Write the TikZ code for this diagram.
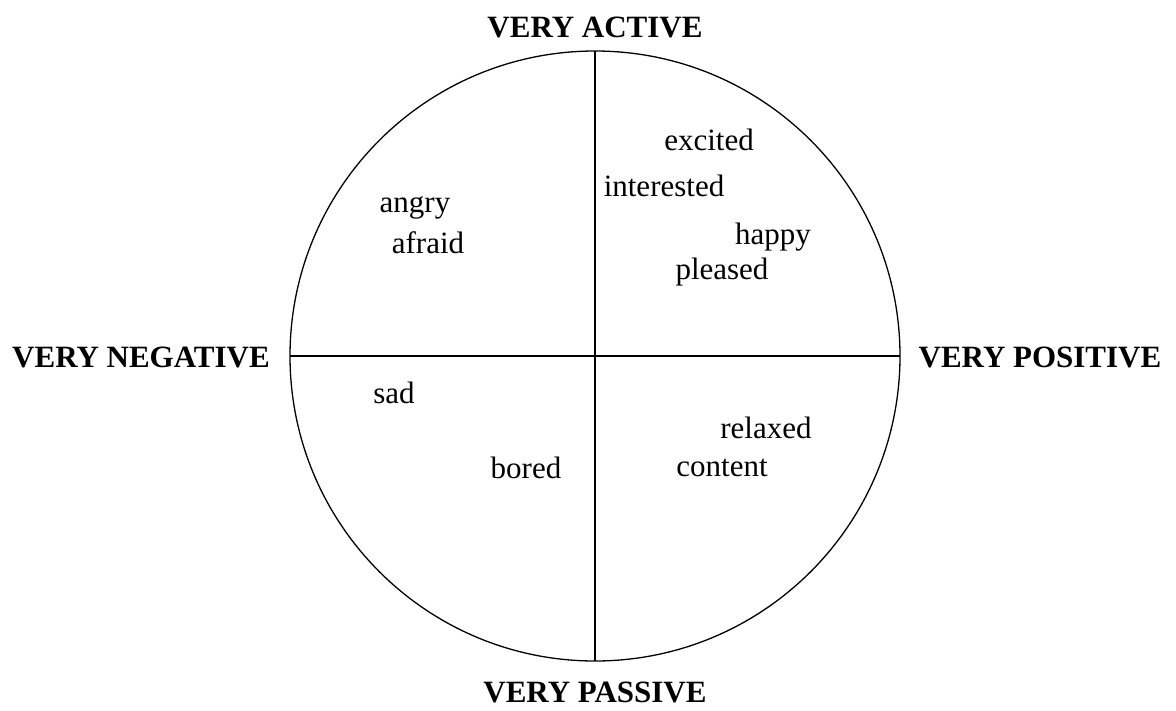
\documentclass[tikz,border=0pt]{standalone}
\usepackage{fontspec}
\setmainfont{Liberation Serif}
\begin{document}
\begin{tikzpicture}[x=1pt,y=-1pt,
  word/.style={font=\fontsize{31}{36}\selectfont, inner sep=0pt},
  pole/.style={font=\fontsize{31}{36}\selectfont\bfseries, inner sep=0pt},
  axis/.style={line width=1.3pt}]
\useasboundingbox (0,0) rectangle (1176,710);
\coordinate (c) at (595,356);
\draw[axis] (c) circle[radius=305];
\coordinate (top) at (595,51);
\coordinate (bot) at (595,661);
\coordinate (lft) at (290,356);
\coordinate (rgt) at (900,356);
\draw[axis] (top) -- (bot);
\draw[axis] (lft) -- (rgt);
\node[pole] (act) at (595,27) {VERY ACTIVE};
\node[pole] (neg) at (141,357) {VERY NEGATIVE};
\node[pole] (pos) at (1040,357) {VERY POSITIVE};
\node[pole] (pas) at (595,692) {VERY PASSIVE};
\node[word] (excited) at (709,140) {excited};
\node[word] (interested) at (664,186) {interested};
\node[word] (angry) at (415,208) {angry};
\node[word] (afraid) at (428,243) {afraid};
\node[word] (happy) at (773,237) {happy};
\node[word] (pleased) at (722,272) {pleased};
\node[word] (sad) at (394,393) {sad};
\node[word] (relaxed) at (766,428) {relaxed};
\node[word] (bored) at (526,468) {bored};
\node[word] (content) at (722,468) {content};
\end{tikzpicture}
\end{document}
